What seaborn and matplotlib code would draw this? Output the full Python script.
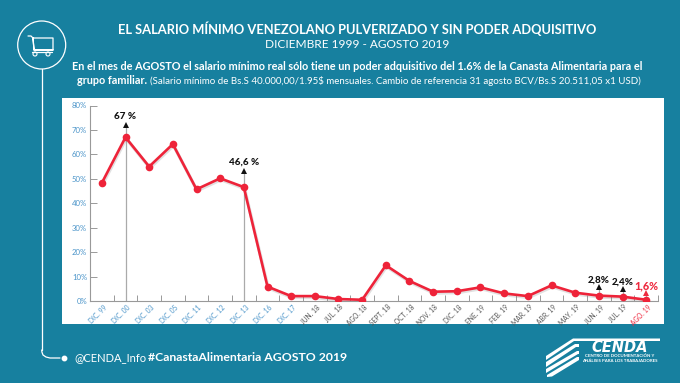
import matplotlib
matplotlib.use("Agg")
import matplotlib.pyplot as plt
import seaborn as sns
import pandas as pd
from matplotlib.patches import Rectangle, Circle, Polygon

categories = ["DIC. 99","DIC. 00","DIC. 03","DIC. 05","DIC. 11","DIC. 12","DIC. 13","DIC. 16","DIC. 17",
              "JUN. 18","JUL. 18","AGO. 18","SEPT. 18","OCT. 18","NOV. 18","DIC. 18","ENE. 19","FEB. 19",
              "MAR. 19","ABR. 19","MAY. 19","JUN. 19","JUL. 19","AGO. 19"]
values = [48.3,67,55,64.2,45.7,50.2,46.6,5.9,2.0,2.0,0.8,0.5,14.6,8.2,3.8,4.0,5.6,3.1,2.0,6.4,3.4,2.2,1.8,0.5]
callout_idx = [1,6,21,22,23]
callout_text = ["67 %","46,6 %","2,8%","2,4%","1,6%"]
callout_arrow = [72,53.2,5.6,4.9,3.4]
callout_label = [75.7,57,8.6,7.9,6.3]
callout_color = ["#111111","#111111","#111111","#111111","#EE2A3F"]

BG = "#17809F"
RED = "#EE2339"
sns.set_theme(style="white")
plt.rcParams["font.family"] = ["Lato","DejaVu Sans"]

fig = plt.figure(figsize=(6.8,3.83),dpi=100,facecolor=BG)
ov = fig.add_axes([0,0,1,1],zorder=0)
ov.set_xlim(0,680); ov.set_ylim(383,0); ov.axis("off")
ov.add_patch(Rectangle((62,98),602,226,fc="white",ec="none"))

# header
ov.text(357,29,"EL SALARIO MÍNIMO VENEZOLANO PULVERIZADO Y SIN PODER ADQUISITIVO",color="white",
        fontsize=9.3,fontweight="bold",ha="center",va="center")
ov.text(357,45,"DICIEMBRE 1999 - AGOSTO 2019",color="white",fontsize=8.6,ha="center",va="center")
ov.text(357,66,"En el mes de AGOSTO el salario mínimo real sólo tiene un poder adquisitivo del 1.6% de la Canasta Alimentaria para el",
        color="white",fontsize=7.8,fontweight="bold",ha="center",va="center")
ov.text(77,80.5,"grupo familiar.",color="white",fontsize=7.8,fontweight="bold",ha="left",va="center")
ov.text(150,80.5,"(Salario mínimo de Bs.S 40.000,00/1.95$ mensuales. Cambio de referencia 31 agosto BCV/Bs.S 20.511,05 x1 USD)",
        color="white",fontsize=7.0,ha="left",va="center")

# cart icon and connector
ov.add_patch(Circle((41.7,45),24,fc="none",ec="white",lw=0.9))
ov.plot([41.7,41.7],[69,350],color="white",lw=0.9)
ov.plot([41.7,41.9,43,46,50,60],[350,352,355,357,358,358],color="white",lw=0.9)
ov.plot([64],[358],"o",color="white",ms=3.2)
ov.plot([28,31,33,35,53,53,34,33,34,53],[36,36,38,38,38,50,50,38,50,50],color="white",lw=0.9)
ov.plot([32,52],[52,52],color="white",lw=0.9)
for cx in (35,48):
    ov.add_patch(Circle((cx,54),2,fc=BG,ec="white",lw=0.8))

# footer
ov.text(74,357.5,"@CENDA_Info",color="white",fontsize=8.0,ha="left",va="center")
ov.text(148,357.5,"#CanastaAlimentaria AGOSTO 2019",color="white",fontsize=8.8,fontweight="bold",ha="left",va="center")

# logo
ov.add_patch(Polygon([(546,356),(573,338.5),(660,338.5),(660,341),(574,341),(546,360)],fc="white",ec="none"))
ov.add_patch(Polygon([(546,362),(575,344),(579,344),(579,347),(576,347),(546,367)],fc="white",ec="none"))
ov.add_patch(Polygon([(546,369),(577,351),(579,351),(579,354),(578,354),(546,373)],fc="white",ec="none"))
ov.add_patch(Polygon([(547,375),(577,357),(579,357),(579,360),(552,376.5),(547,377)],fc="white",ec="none"))
ov.text(620,347,"CENDA",color="white",fontsize=10.5,fontweight="bold",style="italic",family="DejaVu Sans",
        ha="center",va="center")
ov.text(620,356.3,"CENTRO DE DOCUMENTACIÓN Y",color="white",fontsize=3.2,fontweight="bold",ha="center",va="center")
ov.text(620,360.8,"ANÁLISIS PARA LOS TRABAJADORES",color="white",fontsize=3.2,fontweight="bold",ha="center",va="center")

# chart
ax = fig.add_axes([90/680,1-301/383,568/680,195.5/383],zorder=2)
ax.patch.set_alpha(0)
df = pd.DataFrame({"x":range(len(categories)),"v":values})
sns.lineplot(data=df,x="x",y="v",ax=ax,color="#888888",lw=2.4,alpha=0.25,zorder=2,legend=False,
             transform=ax.transData+matplotlib.transforms.ScaledTranslation(0.5/72,-1/72,fig.dpi_scale_trans))
for i,a in zip(callout_idx[:2],callout_arrow[:2]):
    ax.vlines(i,0,a,color="#AAAAAA",lw=0.9,zorder=1)
for i,a in zip(callout_idx[2:],callout_arrow[2:]):
    ax.vlines(i,values[i],a,color="#AAAAAA",lw=0.9,zorder=1)
sns.lineplot(data=df,x="x",y="v",ax=ax,color=RED,lw=1.9,marker="o",markersize=5.5,markeredgecolor=RED,
             markeredgewidth=0,zorder=3,legend=False)
for i,t,a,l,c in zip(callout_idx,callout_text,callout_arrow,callout_label,callout_color):
    ax.plot([i],[a],marker="^",color=c,ms=4.2,mew=0,zorder=4,ls="none")
    ax.text(i,l,t,color=c,fontsize=7.1 if c=="#111111" else 7.8,fontweight="black",ha="center",va="center",zorder=5)
ax.set_xlim(-0.5,len(categories)-0.5); ax.set_ylim(0,80)
ax.set_xlabel(""); ax.set_ylabel("")
ax.set_yticks(range(0,81,10))
ax.set_yticklabels([f"{v}%" for v in range(0,81,10)],color="#4A94C9",fontsize=5.6)
ax.tick_params(axis="y",direction="in",length=5,width=0.7,color="#999999",pad=2,left=True)
ax.set_xticks([i-0.5 for i in range(len(categories)+1)])
ax.set_xticklabels([])
ax.tick_params(axis="x",direction="in",length=4,width=0.7,color="#999999",bottom=True)
for i,c in enumerate(categories):
    col = "#4A94C9" if i<9 else ("#EE2A3F" if i==23 else "#555555")
    ax.annotate(c,(i,0),xytext=(2.7,-3.6),textcoords="offset points",rotation=45,rotation_mode="anchor",
                ha="right",va="center",fontsize=4.8,color=col,annotation_clip=False)
sns.despine(ax=ax)
for s in ("left","bottom"):
    ax.spines[s].set_color("#999999"); ax.spines[s].set_linewidth(0.8)
fig.savefig("out.png",dpi=100,facecolor=BG)
